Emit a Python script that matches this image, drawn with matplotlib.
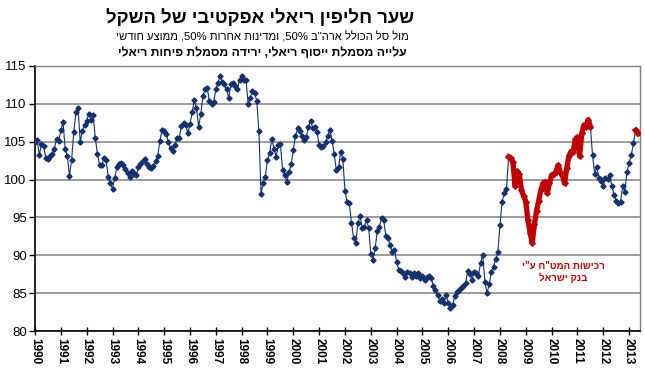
import re
import numpy as np
import matplotlib
matplotlib.use("Agg")
import matplotlib.pyplot as plt

plt.rcParams['font.family'] = ['Liberation Sans', 'DejaVu Sans']

# ---------------- data (monthly, Jan 1990 - May 2013) ----------------
start_year = 1990
values = [
    # 1990
    104.9, 105.2, 103.2, 104.7, 104.4, 102.8, 102.7, 103.1, 103.4, 104.1, 105.4, 105.1,
    # 1991
    106.5, 107.6, 104.1, 103.1, 100.5, 102.6, 106.3, 108.9, 109.4, 105.0, 106.4, 107.2,
    # 1992
    107.8, 108.7, 107.9, 108.5, 105.5, 103.4, 101.9, 101.9, 102.8, 102.6, 100.4, 99.5,
    # 1993
    98.8, 100.2, 101.6, 102.1, 102.2, 101.9, 101.4, 100.9, 100.4, 101.1, 100.8, 100.6,
    # 1994
    101.6, 102.0, 102.4, 102.7, 102.1, 101.6, 101.5, 101.8, 102.5, 103.1, 105.1, 106.6,
    # 1995
    106.4, 106.0, 104.9, 104.2, 103.8, 104.6, 105.5, 105.5, 107.1, 107.5, 107.2, 106.2,
    # 1996
    107.3, 108.9, 110.5, 109.4, 107.0, 108.6, 111.1, 111.9, 112.1, 110.4, 110.0, 110.2,
    # 1997
    111.9, 112.8, 113.7, 112.9, 112.6, 111.9, 110.8, 112.6, 112.7, 112.3, 111.9, 113.2,
    # 1998
    113.7, 113.1, 113.2, 110.0, 110.8, 111.7, 111.4, 110.4, 106.4, 98.1, 99.6, 100.4,
    # 1999
    102.6, 103.5, 105.4, 104.1, 103.0, 104.5, 104.7, 101.3, 100.6, 99.7, 101.0, 102.0,
    # 2000
    103.9, 105.8, 106.8, 106.4, 105.8, 105.2, 105.6, 106.9, 107.8, 106.8, 106.9, 106.3,
    # 2001
    104.5, 104.3, 104.4, 104.9, 105.8, 106.6, 105.1, 103.4, 101.2, 101.6, 103.7, 102.7,
    # 2002
    98.5, 97.0, 96.9, 94.3, 92.3, 91.6, 94.3, 95.2, 93.6, 93.8, 94.7, 93.6,
    # 2003
    90.2, 89.4, 90.9, 93.2, 93.8, 94.9, 94.6, 92.5, 92.3, 91.3, 90.4, 90.7,
    # 2004
    89.1, 88.1, 87.9, 87.7, 87.1, 87.8, 87.6, 87.1, 87.6, 87.2, 87.6, 87.0,
    # 2005
    87.2, 86.8, 87.1, 87.2, 87.0, 86.0, 85.4, 84.7, 84.0, 84.2, 83.7, 84.7,
    # 2006
    83.7, 83.1, 83.4, 84.6, 85.1, 85.4, 85.7, 86.0, 86.3, 87.9, 87.5, 86.7,
    # 2007
    87.8, 87.6, 87.3, 89.0, 90.1, 86.5, 85.0, 86.2, 87.8, 88.5, 89.5, 90.4,
    # 2008
    94.0, 97.1, 98.2, 98.7, 103.0, 102.8, 102.3, 99.2, 101.1, 100.7, 98.6, 97.8,
    # 2009
    97.1, 94.6, 93.0, 91.6, 94.1, 95.9, 97.2, 98.6, 99.5, 99.7, 98.2, 99.5,
    # 2010
    100.6, 100.7, 101.0, 101.9, 101.0, 100.6, 99.5, 101.5, 103.1, 103.7, 103.6, 105.3,
    # 2011
    105.6, 103.1, 106.1, 107.2, 107.0, 107.9, 107.0, 103.2, 100.8, 101.6, 100.2, 99.8,
    # 2012
    99.2, 100.2, 100.1, 100.6, 99.1, 98.0, 97.2, 96.9, 97.1, 99.1, 98.4, 101.0,
    # 2013
    102.2, 103.2, 104.8, 106.5, 106.1,
]
# periods of Bank of Israel FX purchases (highlighted in red): (first, last) month
red_periods = [("2008-05", "2011-07"), ("2013-04", "2013-05")]
year_ticks = list(range(1990, 2014))
y_ticks = [80, 85, 90, 95, 100, 105, 110, 115]

title = "שער חליפין ריאלי אפקטיבי של השקל"
subtitle1 = 'מול סל הכולל ארה"ב 50%, ומדינות אחרות 50%, ממוצע חודשי'
subtitle2 = "עלייה מסמלת ייסוף ריאלי, ירידה מסמלת פיחות ריאלי"
note_lines = ['רכישות המט"ח ע"י', "בנק ישראל"]


def vis(s):
    """Convert logical-order Hebrew to visual order for LTR renderer."""
    r = s[::-1]
    return re.sub(r'[0-9%A-Za-z]+', lambda m: m.group(0)[::-1], r)


def month_index(ym):
    y, m = ym.split("-")
    return (int(y) - start_year) * 12 + int(m) - 1


vals = np.array(values)
x = start_year + np.arange(len(vals)) / 12.0

BLUE = "#14306e"
RED = "#c00000"

fig = plt.figure(figsize=(6.45, 3.72), dpi=100)
ax = fig.add_axes([0.0543, 0.1102, 0.9379, 0.7124])

ax.plot(x, vals, color=BLUE, lw=0.8, marker="D", ms=2.6, mec=BLUE, mfc=BLUE, zorder=3)
for a, b in red_periods:
    i0, i1 = month_index(a), month_index(b)
    ax.plot(x[i0:i1 + 1], vals[i0:i1 + 1], color=RED, lw=3.8, marker="D", ms=2.6,
            mec=RED, mfc=RED, solid_joinstyle="round", zorder=4)

ax.set_xlim(1990, 2013.42)
ax.set_ylim(80, 115)
ax.set_yticks(y_ticks)
ax.set_xticks(year_ticks)
ax.set_xticklabels([str(y) for y in year_ticks], rotation=-90, fontsize=8.5,
                   fontweight="bold")
ax.tick_params(axis="x", direction="inout", length=6, width=1, pad=2, color="black")
ax.tick_params(axis="y", direction="out", length=4, width=1, pad=2, labelsize=9.5,
               color="black")
ax.yaxis.grid(True, color="#808080", lw=1.1)
ax.set_axisbelow(True)
for s in ["top", "right"]:
    ax.spines[s].set_color("#808080")
    ax.spines[s].set_linewidth(1)
for s in ["left", "bottom"]:
    ax.spines[s].set_color("black")
    ax.spines[s].set_linewidth(1.2)

ax.text(2010.44, 88.6, vis(note_lines[0]), color=RED, fontsize=7, fontweight="bold",
        ha="center", va="center")
ax.text(2010.44, 87.0, vis(note_lines[1]), color=RED, fontsize=7, fontweight="bold",
        ha="center", va="center")

fig.text(260 / 645, 1 - 18 / 372, vis(title), fontsize=13.3, fontweight="bold",
         ha="center", va="center")
fig.text(262 / 645, 1 - 37 / 372, vis(subtitle1), fontsize=8.1,
         ha="center", va="center")
fig.text(262 / 645, 1 - 53 / 372, vis(subtitle2), fontsize=8.7, fontweight="bold",
         ha="center", va="center")

fig.savefig("out.png", dpi=100)
